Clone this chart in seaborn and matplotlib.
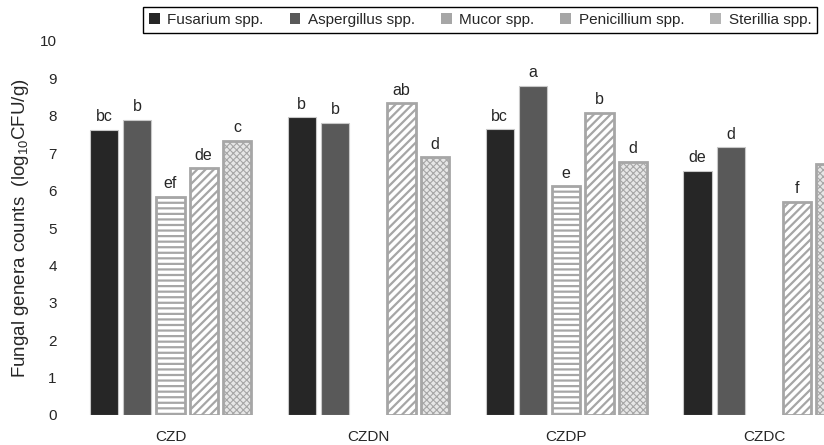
import numpy as np
import pandas as pd
import matplotlib.pyplot as plt
import seaborn as sns
from matplotlib.patches import Patch

groups = ["CZD", "CZDN", "CZDP", "CZDC"]
genera = ["Fusarium spp.", "Aspergillus spp.", "Mucor spp.", "Penicillium spp.", "Sterillia spp."]

# log10 CFU/g (nan = no bar)
fusarium = [7.62, 7.96, 7.64, 6.53]
aspergillus = [7.90, 7.82, 8.80, 7.16]
mucor = [5.84, np.nan, 6.12, np.nan]
penicillium = [6.60, 8.33, 8.08, 5.70]
sterillia = [7.33, 6.89, 6.77, 6.71]

# significance letters above bars
fusarium_letters = ["bc", "b", "bc", "de"]
aspergillus_letters = ["b", "b", "a", "d"]
mucor_letters = ["ef", "", "e", ""]
penicillium_letters = ["de", "ab", "b", "f"]
sterillia_letters = ["c", "d", "d", ""]

values = [fusarium, aspergillus, mucor, penicillium, sterillia]
letters = [fusarium_letters, aspergillus_letters, mucor_letters,
           penicillium_letters, sterillia_letters]

rows = []
for genus, vals in zip(genera, values):
    for g, v in zip(groups, vals):
        rows.append({"group": g, "genus": genus, "count": v})
df = pd.DataFrame(rows).dropna()

face = ["#262626", "#595959", "white", "white", "#e6e6e6"]
edge = ["#c8c8c8", "#c8c8c8", "#a6a6a6", "#a6a6a6", "#a6a6a6"]
hatches = [None, None, "---", "////", "xxxxx"]
hatch_lw = [1.0, 1.0, 1.6, 1.6, 0.8]
lws = [0.8, 0.8, 2.0, 2.0, 2.0]
legend_face = ["#262626", "#595959", "#a6a6a6", "#a6a6a6", "#b4b4b4"]

sns.set_style("white")
plt.rcParams["font.family"] = ["Liberation Sans", "DejaVu Sans"]
plt.rcParams["hatch.linewidth"] = 1.6

fig = plt.figure(figsize=(8.24, 4.45), dpi=100)
ax = fig.add_axes([65 / 824, 30 / 445, 759 / 824, 374 / 445])

sns.barplot(data=df, x="group", y="count", hue="genus", order=groups,
            hue_order=genera, palette=dict(zip(genera, face)), saturation=1,
            width=0.84, gap=0.15, errorbar=None, legend=False, ax=ax)

for i, cont in enumerate(ax.containers):
    for p in cont:
        p.set_facecolor(face[i])
        p.set_edgecolor(edge[i])
        p.set_linewidth(lws[i])
        if hatches[i]:
            p.set_hatch(hatches[i])
            if hasattr(p, "set_hatch_linewidth"):
                p.set_hatch_linewidth(hatch_lw[i])
    labs = [l for l, v in zip(letters[i], values[i]) if not np.isnan(v)]
    ax.bar_label(cont, labels=labs, padding=4, fontsize=11.5)

ax.set_ylim(0, 10)
ax.set_xlim(-0.533, 3.303)
ax.set_yticks(range(0, 11))
ax.tick_params(axis="y", length=0, pad=6, labelsize=11)
ax.tick_params(axis="x", length=0, pad=11, labelsize=11)
ax.set_xlabel("")
ax.set_ylabel("Fungal genera counts  (log$_{\\mathregular{10}}$CFU/g)", fontsize=13.5, labelpad=6)
for s in ax.spines.values():
    s.set_visible(False)

handles = [Patch(facecolor=c, edgecolor="none") for c in legend_face]
leg = fig.legend(handles=handles, labels=genera, loc="upper left",
                 bbox_to_anchor=(143 / 824, 1 - 7 / 445), ncol=5, frameon=True,
                 fancybox=False, edgecolor="black", framealpha=1, fontsize=11,
                 handlelength=0.7, handleheight=0.7, handletextpad=0.5,
                 columnspacing=1.7, borderpad=0.4, borderaxespad=0)
leg.get_frame().set_linewidth(1.0)

fig.savefig("out.png", dpi=100)
